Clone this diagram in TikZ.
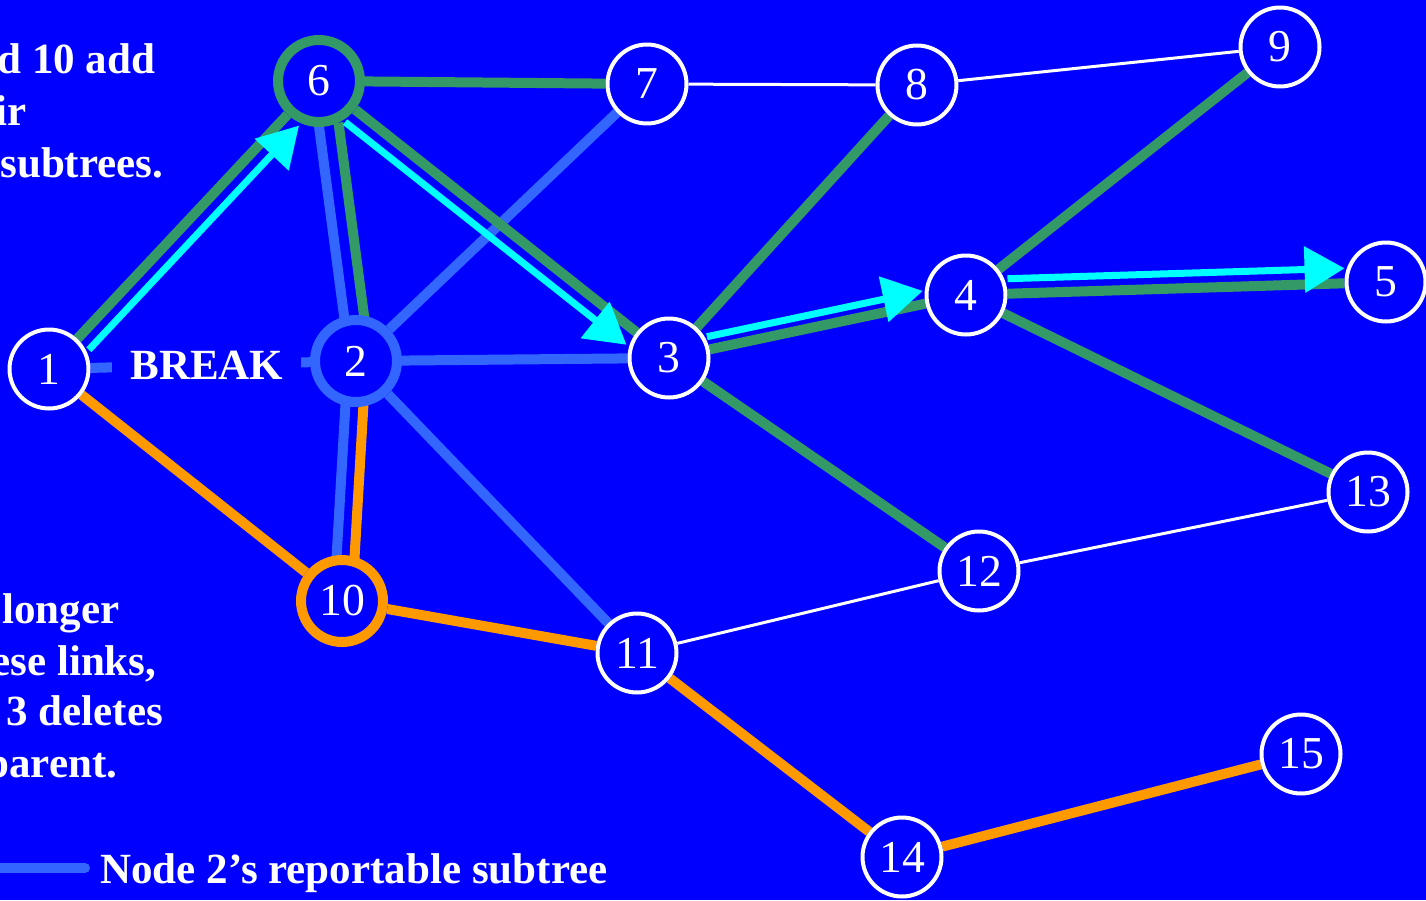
\documentclass[tikz,border=0pt]{standalone}
\usepackage{fontspec}
\setmainfont{Liberation Serif}
\usetikzlibrary{arrows.meta}
\definecolor{bgblue}{RGB}{0,0,255}
\definecolor{treegreen}{RGB}{51,153,102}
\definecolor{subblue}{RGB}{51,102,255}
\definecolor{linkorange}{RGB}{255,153,0}
\definecolor{msgcyan}{RGB}{0,255,255}
\pgfdeclarelayer{bg}
\pgfdeclarelayer{links}
\pgfsetlayers{bg,links,main}
\tikzset{
  vtx/.style={circle, draw=white, line width=0.08cm, fill=bgblue, minimum size=1.58cm,
    inner sep=0pt, text=white, font=\fontsize{26}{30}\selectfont},
  ring/.style={vtx, line width=0.2cm, minimum size=1.64cm},
  greenlink/.style={treegreen, line width=0.2cm},
  bluelink/.style={subblue, line width=0.2cm},
  orangelink/.style={linkorange, line width=0.2cm},
  thinlink/.style={white, line width=0.06cm},
  offset/.style={shorten <=-0.08cm, shorten >=-0.08cm},
  msg/.style={msgcyan, line width=0.14cm, -{Triangle[length=0.8cm,width=0.9cm]}},
  note/.style={text=white, font=\bfseries\fontsize{24.5}{29.5}\selectfont, inner sep=0pt, anchor=base west},
}
\begin{document}
\begin{tikzpicture}[x=0.02cm, y=-0.02cm]
\clip (0,0) rectangle (1426,900);
\begin{pgfonlayer}{bg}
\fill[bgblue] (0,0) rectangle (1426,900);
\end{pgfonlayer}

% the network
\foreach \n/\x/\y in {1/49/369, 3/669/358, 4/966/295, 5/1386/282, 7/647/84, 8/917/85,
    9/1280/47, 11/637/653, 12/979/571, 13/1368/492, 14/902/857, 15/1301/754}
  \node[vtx] (n\n) at (\x,\y) {\n};
\node[ring, draw=treegreen] (n6) at (319,81) {6};
\node[ring, draw=subblue] (n2) at (356,361) {2};
\node[ring, draw=linkorange] (n10) at (342,601) {10};

\begin{pgfonlayer}{links}
% node 2's subtree
\draw[bluelink] (n1) -- node[note, anchor=center, fill=bgblue, inner xsep=0.36cm,
    inner ysep=0.1cm, pos=0.53] (brk) {BREAK} (n2);
\foreach \b in {n7, n3, n11}
  \draw[bluelink] (n2) -- (\b);
\draw[bluelink, offset, transform canvas={shift={(-0.12cm,0)}}] (n2) -- (n6);
\draw[bluelink, offset, transform canvas={shift={(-0.16cm,0)}}] (n2) -- (n10);

% tree
\foreach \a/\b in {n1/n6, n6/n7, n6/n3, n3/n8, n3/n4, n3/n12, n4/n9, n4/n5, n4/n13}
  \draw[greenlink] (\a) -- (\b);
\draw[greenlink, offset, transform canvas={shift={(0.28cm,0)}}] (n6) -- (n2);

\foreach \a/\b in {n1/n10, n10/n11, n11/n14, n14/n15}
  \draw[orangelink] (\a) -- (\b);
\draw[orangelink, offset, transform canvas={shift={(0.2cm,0)}}] (n10) -- (n2);

\foreach \a/\b in {n7/n8, n8/n9, n11/n12, n12/n13}
  \draw[thinlink] (\a) -- (\b);

% messages
\draw[msg, transform canvas={shift={(0.23cm,-0.22cm)}}] (n1) -- (n6);
\draw[msg, transform canvas={shift={(-0.2cm,-0.25cm)}}] (n6) -- (n3);
\draw[msg, transform canvas={shift={(-0.054cm,0.254cm)}}] (n3) -- (n4);
\draw[msg, transform canvas={shift={(0,0.3cm)}}] (n4) -- (n5);
\end{pgfonlayer}

% text
\node[note] (txtA) at (-3,73) {d 10 add};
\node[note] (txtB) at (-5,125) {ir};
\node[note] (txtC) at (0,177) {subtrees.};
\node[note] (txtD) at (2,623) {longer};
\node[note] (txtE) at (-9,675) {ese links,};
\node[note] (txtF) at (6,725) {3 deletes};
\node[note] (txtG) at (-15,777) {parent.};

\coordinate (lgA) at (-10,868);
\coordinate (lgB) at (85,868);
\draw[bluelink, line cap=round] (lgA) -- (lgB);
\node[note] (legend) at (100,883) {Node 2’s reportable subtree};
\end{tikzpicture}
\end{document}
